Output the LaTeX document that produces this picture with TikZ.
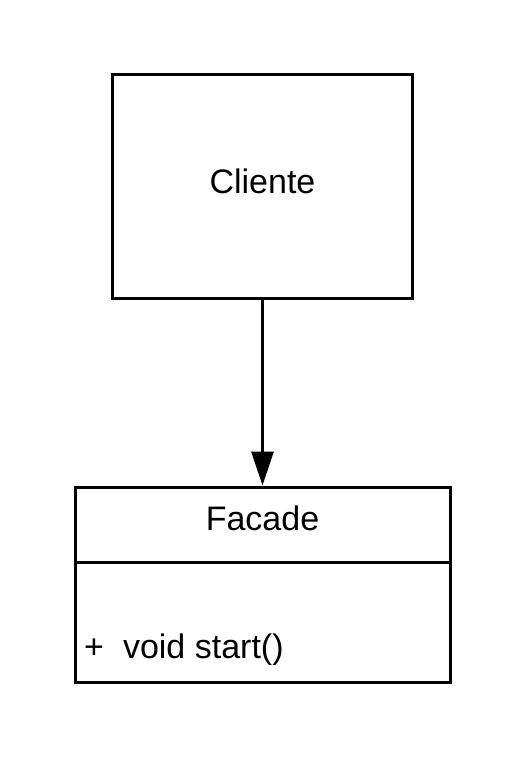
\documentclass[tikz,border=0pt]{standalone}
\usepackage{fontspec}
\setmainfont{Liberation Sans}
\usetikzlibrary{arrows.meta}
\begin{document}
\begin{tikzpicture}[x=1pt,y=-1pt,
  box/.style={draw=black, line width=3pt, inner sep=0pt},
  lbl/.style={font=\fontsize{34}{40}\selectfont, inner sep=0pt},
  conn/.style={line width=3pt, -{Triangle[width=22pt,length=34pt]}}]
\useasboundingbox (0,0) rectangle (525,758);
\node[box, minimum width=300pt, minimum height=224pt] (cliente) at (262.5,186.5) {};
\node[lbl, anchor=base] (clienteText) at (262.5,193) {Cliente};
\node[box, minimum width=375pt, minimum height=75pt] (facadeHead) at (262.5,524.5) {};
\node[box, minimum width=375pt, minimum height=120pt] (facadeBody) at (262.5,622) {};
\node[lbl, anchor=base] (facadeText) at (262.5,530.7) {Facade};
\node[lbl, anchor=base west] (method) at (84,658) {+\hspace{19pt}void start()};
\draw[conn] (cliente.south) -- (facadeHead.north);
\end{tikzpicture}
\end{document}
